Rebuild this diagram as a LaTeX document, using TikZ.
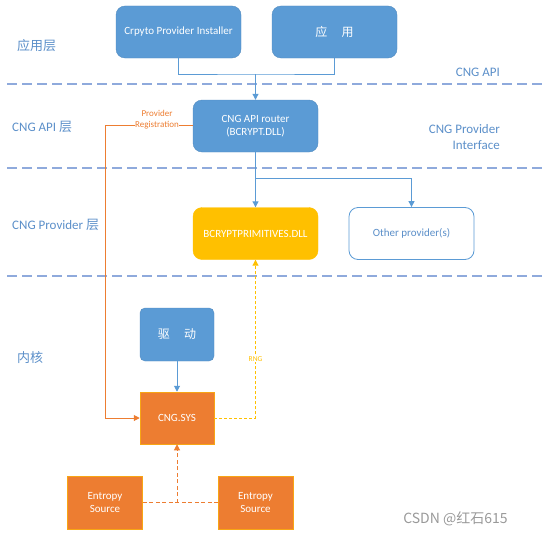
\documentclass[tikz,border=0pt]{standalone}
\usepackage{fontspec}
\setmainfont{Carlito}
\newfontfamily\cjk{Noto Sans CJK SC}
\usetikzlibrary{arrows.meta}
\definecolor{cblue}{HTML}{5B9BD5}
\definecolor{corange}{HTML}{ED7D31}
\definecolor{cyellow}{HTML}{FFC000}
\definecolor{csep}{HTML}{8FAADC}
\definecolor{ctext}{HTML}{5B8FC9}
\tikzset{
  bluebox/.style={draw=cblue!90!black, line width=0.4pt, fill=cblue, text=white, rounded corners=9pt, minimum width=125pt, minimum height=52pt, font=\fontsize{11}{13.5}\selectfont, align=center},
  yelbox/.style={bluebox, draw=cyellow, fill=cyellow},
  otherbox/.style={bluebox, draw=cblue, line width=0.8pt, fill=white, text=ctext},
  orabox/.style={draw=cyellow!60!corange, line width=0.5pt, fill=corange, text=white, minimum width=75pt, minimum height=53pt, font=\fontsize{11}{13.5}\selectfont, align=center},
  sepline/.style={csep, line width=1.1pt, dash pattern=on 10pt off 5pt},
  layerlbl/.style={text=ctext, font=\fontsize{13}{15}\selectfont, anchor=west, inner sep=0pt},
  rightlbl/.style={text=ctext, font=\fontsize{13}{16}\selectfont, align=right, inner sep=0pt},
  tip/.style={-{Triangle[width=6pt,length=6pt]}},
  bluecon/.style={cblue, line width=1pt},
  oracon/.style={corange, line width=1pt},
  yelcon/.style={cyellow, line width=1pt, dash pattern=on 3pt off 2pt},
  smalllbl/.style={font=\fontsize{9}{10}\selectfont, inner sep=0.5pt, fill=white}
}
\begin{document}
\begin{tikzpicture}[x=1pt,y=-1pt]
\useasboundingbox (0,0) rectangle (553,535);
% separators
\draw[sepline] (7,84) -- (546,84);
\draw[sepline] (7,168) -- (546,168);
\draw[sepline] (7,276) -- (546,276);
% layer labels
\node[layerlbl] (l1) at (17,46) {\cjk 应用层};
\node[layerlbl] (l2) at (12,127) {CNG API {\cjk 层}};
\node[layerlbl] (l3) at (12,225) {CNG Provider {\cjk 层}};
\node[layerlbl] (l4) at (17,358) {\cjk 内核};
\node[rightlbl, anchor=east] (r1) at (500,72) {CNG API};
\node[rightlbl, anchor=east] (r2) at (500,137) {CNG Provider\\Interface};
% boxes
\node[bluebox] (inst) at (178.5,32) {Crpyto Provider Installer};
\node[bluebox, font=\cjk\fontsize{12}{14}\selectfont] (app) at (334.5,32) {应\hspace{1.2em}用};
\node[bluebox] (router) at (255.5,126) {CNG API router\\(BCRYPT.DLL)};
\node[yelbox] (bcp) at (255.5,233.5) {BCRYPTPRIMITIVES.DLL};
\node[otherbox] (other) at (411.5,233.5) {Other provider(s)};
\node[bluebox, rounded corners=5pt, minimum width=74pt, minimum height=53pt, font=\cjk\fontsize{12}{14}\selectfont] (drive) at (177,334.5) {驱\hspace{1.2em}动};
\node[orabox, minimum width=74pt, minimum height=52pt] (sys) at (177,418) {CNG.SYS};
\node[orabox] (ent1) at (105,502.5) {Entropy\\Source};
\node[orabox] (ent2) at (255.5,502.5) {Entropy\\Source};
% connectors
\coordinate (j1) at (255.5,74);
\draw[bluecon] (inst.south) |- (j1) -| (app.south);
\draw[bluecon, tip] (j1) -- (router.north);
\coordinate (j2) at (255.5,178);
\draw[bluecon, tip] (router.south) -- (bcp.north);
\draw[bluecon, tip] (j2) -| (other.north);
\coordinate (c1) at (105,125);
\draw[oracon, tip] (router.west |- c1) -- (c1) |- (sys.west);
\node[smalllbl, text=corange] (reg) at (157,125) {Registration};
\node[smalllbl, text=corange, fill=none] (prov) at (157,113) {Provider};
\draw[bluecon, tip] (drive.south) -- (sys.north);
\draw[yelcon, tip] (sys.east) -| (bcp.south);
\node[smalllbl, text=cyellow, font=\fontsize{7.5}{8}\selectfont] (rng) at (255.5,359) {RNG};
\coordinate (j3) at (177,502.5);
\draw[oracon, dash pattern=on 4pt off 2.5pt] (ent1.east) -- (ent2.west);
\draw[oracon, dash pattern=on 4pt off 2.5pt, tip] (j3) -- (sys.south);
% watermark
\node[text=gray!80, font=\cjk\fontsize{14}{16}\selectfont, inner sep=0pt] (wm) at (455.5,519) {CSDN @红石615};
\end{tikzpicture}
\end{document}
